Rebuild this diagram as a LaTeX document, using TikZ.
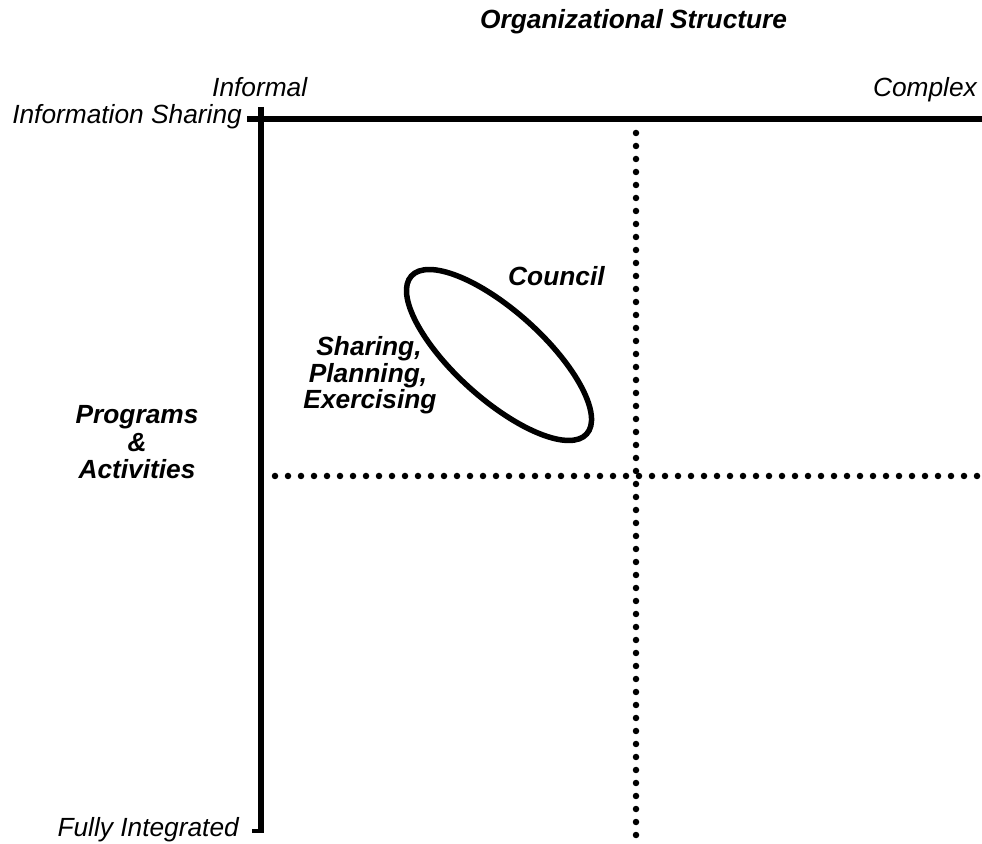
\documentclass[tikz,border=0pt]{standalone}
\usepackage{fontspec}
\setmainfont{Liberation Sans}
\usetikzlibrary{shapes.geometric}
\begin{document}
\begin{tikzpicture}[x=1pt,y=1pt,
  lbl/.style={inner sep=0pt, font=\fontsize{26.3}{30}\selectfont\itshape},
  blbl/.style={inner sep=0pt, font=\fontsize{26.3}{30}\selectfont\bfseries\itshape},
  axisline/.style={line width=5.5pt},
  dotline/.style={line width=6.5pt, line cap=round, dash pattern=on 0pt off 13pt}]
\useasboundingbox (0,0) rectangle (982,843);
% axes
\coordinate (hl) at (247,724);
\coordinate (hr) at (982,724);
\coordinate (vt) at (261,736);
\coordinate (vb) at (261,10);
\coordinate (tbl) at (252,12);
\draw[axisline] (hl) -- (hr);
\draw[line width=6pt] (vt) -- (vb);
\draw[line width=4pt] (tbl) -- (vb |- tbl);
% dotted lines
\coordinate (dvt) at (636,710);
\coordinate (dvb) at (636,5);
\coordinate (dhl) at (275,367);
\coordinate (dhr) at (980,367);
\draw[dotline] (dvt) -- (dvb);
\draw[dotline] (dhl) -- (dhr);
% texts
\node[blbl, anchor=base west] (title) at (480,814) {Organizational Structure};
\node[lbl, anchor=base west] (informal) at (212,746) {Informal};
\node[lbl, anchor=base east] (complex) at (977,746) {Complex};
\node[lbl, anchor=base east] (infosh) at (242,719) {Information Sharing};
\node[lbl, anchor=base east] (fully) at (239,7) {Fully Integrated};
\node[blbl, anchor=base] (prog1) at (137,419) {Programs};
\node[blbl, anchor=base] (prog2) at (137,391.5) {\&};
\node[blbl, anchor=base] (prog3) at (137,364) {Activities};
\node[blbl, anchor=base west] (council) at (508,557) {Council};
\node[blbl, anchor=base] (sh1) at (369,487) {Sharing,};
\node[blbl, anchor=base] (sh2) at (368,460.5) {Planning,};
\node[blbl, anchor=base] (sh3) at (370,434) {Exercising};
% ellipse
\node[draw, ellipse, line width=5.5pt, inner sep=0pt, minimum width=236pt, minimum height=88pt, rotate=-42] (ell) at (499,488) {};
\end{tikzpicture}
\end{document}
